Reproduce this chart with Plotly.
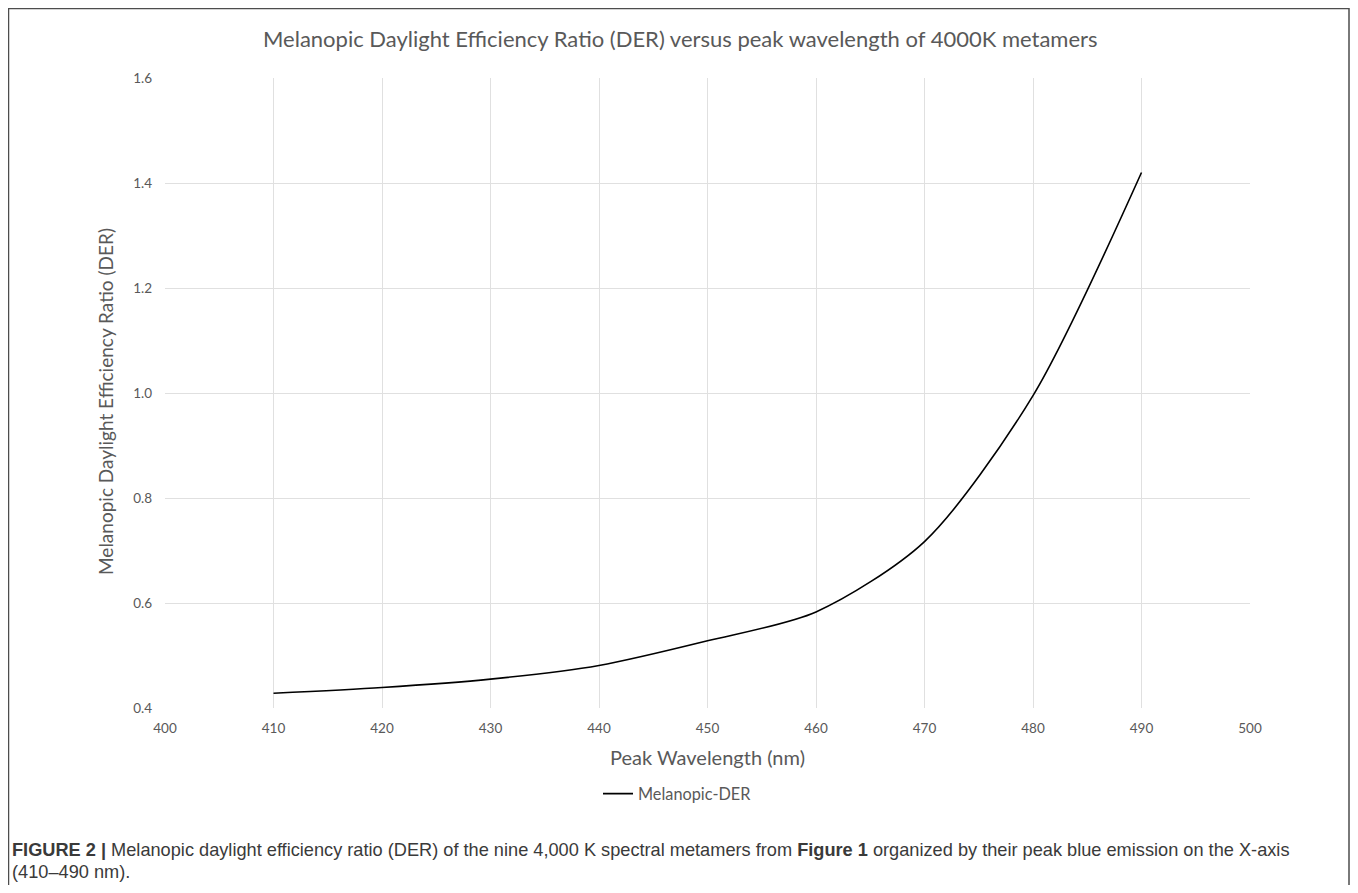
import plotly.graph_objects as go

wavelength = [410, 420, 430, 440, 450, 460, 470, 480, 490]
der = [0.428, 0.439, 0.455, 0.481, 0.528, 0.583, 0.717, 0.995, 1.420]

OFF = 8  # page body margin
W, H = 1342, 877
# plot area in page pixels: x 165..1250, y 78..708
L, R, T, B = 165 - OFF, W - (1250 - OFF), 78 - OFF, H - (708 - OFF)
pw, ph = W - L - R, H - T - B


def px_x(x):
    return (x - OFF - L) / pw


def px_y(y):
    return (H - B - (y - OFF)) / ph


fig = go.Figure()
fig.add_trace(go.Scatter(
    x=wavelength, y=der, mode="lines", name="Melanopic-DER",
    line=dict(color="black", width=1.6, shape="spline", smoothing=0.8),
))

gray = "#595959"
fam = "Lato, Open Sans, sans-serif"
fig.update_layout(
    width=W, height=H,
    margin=dict(l=L, r=R, t=T, b=B),
    paper_bgcolor="white", plot_bgcolor="white",
    font=dict(family=fam, color=gray, size=13),
    showlegend=True,
    legend=dict(orientation="h", x=px_x(598), y=px_y(794), xanchor="left", yanchor="middle",
                font=dict(size=16.3, color=gray, family=fam), itemwidth=30, bgcolor="rgba(0,0,0,0)"),
    xaxis=dict(range=[400, 500], dtick=10, tick0=400, showgrid=True, gridcolor="#e0e0e0",
               gridwidth=1, zeroline=False, showline=False, ticks="", ticklabelstandoff=10,
               tickfont=dict(size=13.5, color=gray),
               title=dict(text="Peak Wavelength (nm)", font=dict(size=20, color=gray), standoff=16)),
    yaxis=dict(range=[0.4, 1.6], dtick=0.2, tick0=0.4, tickformat=".1f", showgrid=True,
               gridcolor="#e0e0e0", gridwidth=1, zeroline=False, showline=False, ticks="",
               ticklabelstandoff=12, tickfont=dict(size=13.5, color=gray)),
)

# outer frame (left, top, right; bottom runs past the picture)
x0, x1 = px_x(8.5), px_x(1349)
y0, y1 = px_y(900), px_y(8.5)
fig.add_shape(type="path", xref="paper", yref="paper",
              path=f"M {x0} {y0} L {x0} {y1} L {x1} {y1} L {x1} {y0}",
              line=dict(color="#4d4d4d", width=1.5), layer="below")

fig.add_annotation(text="Melanopic Daylight Efficiency Ratio (DER) versus peak wavelength of 4000K metamers",
                   xref="paper", yref="paper", x=px_x(680), y=px_y(38), xanchor="center", yanchor="middle",
                   showarrow=False, font=dict(size=22, color=gray, family=fam))

fig.add_annotation(text="Melanopic Daylight Efficiency Ratio (DER)", textangle=-90,
                   xref="paper", yref="paper", x=px_x(106), y=px_y(402), xanchor="center", yanchor="middle",
                   showarrow=False, font=dict(size=19, color=gray, family=fam))

cap_font = dict(family="Liberation Sans, Arial, sans-serif", size=18.2, color="#3a3a3a")
fig.add_annotation(text="<b>FIGURE 2 |</b> Melanopic daylight efficiency ratio (DER) of the nine 4,000 K spectral metamers from <b>Figure 1</b> organized by their peak blue emission on the X-axis",
                   xref="paper", yref="paper", x=px_x(10), y=px_y(850), xanchor="left", yanchor="middle",
                   showarrow=False, font=cap_font)
fig.add_annotation(text="(410–490 nm).",
                   xref="paper", yref="paper", x=px_x(10), y=px_y(872), xanchor="left", yanchor="middle",
                   showarrow=False, font=cap_font)

fig.write_html("out.html")
